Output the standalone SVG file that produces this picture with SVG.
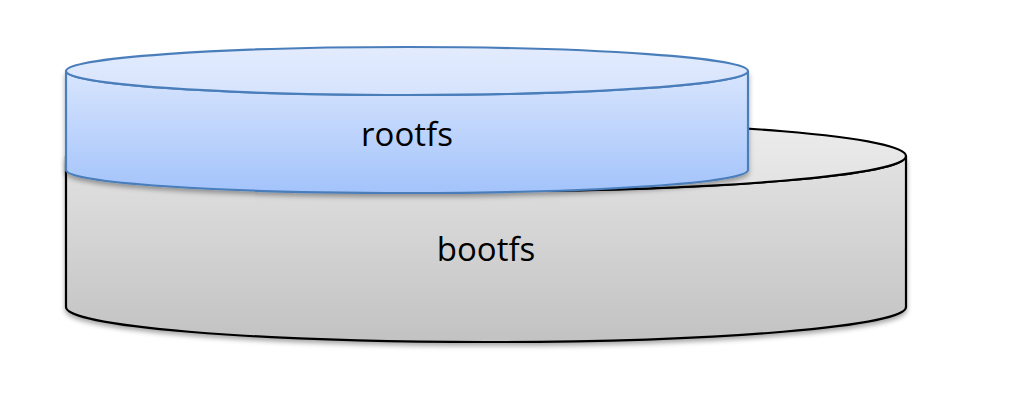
<svg xmlns="http://www.w3.org/2000/svg" width="1014" height="406" viewBox="0 0 1014 406">
  <defs>
    <linearGradient id="grayBody" x1="0" y1="0" x2="0" y2="1">
      <stop offset="0" stop-color="#e2e2e2"/>
      <stop offset="1" stop-color="#c2c2c2"/>
    </linearGradient>
    <linearGradient id="grayTop" x1="0" y1="0" x2="0" y2="1">
      <stop offset="0" stop-color="#ececec"/>
      <stop offset="1" stop-color="#e2e2e2"/>
    </linearGradient>
    <linearGradient id="blueBody" x1="0" y1="0" x2="0" y2="1">
      <stop offset="0" stop-color="#d8e5fd"/>
      <stop offset="1" stop-color="#a3c3fb"/>
    </linearGradient>
    <linearGradient id="blueTop" x1="0" y1="0" x2="0" y2="1">
      <stop offset="0" stop-color="#e3ecfd"/>
      <stop offset="1" stop-color="#d6e3fd"/>
    </linearGradient>
    <filter id="shadow" x="-5%" y="-10%" width="110%" height="130%">
      <feDropShadow dx="0" dy="3" stdDeviation="2.5" flood-color="#000" flood-opacity="0.35"/>
    </filter>
  </defs>
  <style>
    .gray { stroke: #000; stroke-width: 2.2; }
    .blue { stroke: #4a7ebb; stroke-width: 2.2; }
    .label { font-family: "Open Sans", "Liberation Sans", sans-serif; font-size: 33px; fill: #000; text-anchor: middle; }
  </style>
  <rect width="1014" height="406" fill="#fff"/>
  <g id="bootfs">
    <path class="gray" filter="url(#shadow)" fill="url(#grayBody)" d="M66,156 L66,307 A420,35 0 0 0 906,307 L906,156 A420,35 0 0 1 66,156 Z"/>
    <ellipse class="gray" fill="url(#grayTop)" cx="486" cy="156" rx="420" ry="35"/>
    <text class="label" x="486" y="261">bootfs</text>
  </g>
  <g id="rootfs">
    <path class="blue" filter="url(#shadow)" fill="url(#blueBody)" d="M66,71 L66,170 A341,23 0 0 0 748,170 L748,71 A341,24 0 0 1 66,71 Z"/>
    <ellipse class="blue" fill="url(#blueTop)" cx="407" cy="71" rx="341" ry="24"/>
    <text class="label" x="407" y="146">rootfs</text>
  </g>
  <g id="connectors"/>
</svg>
